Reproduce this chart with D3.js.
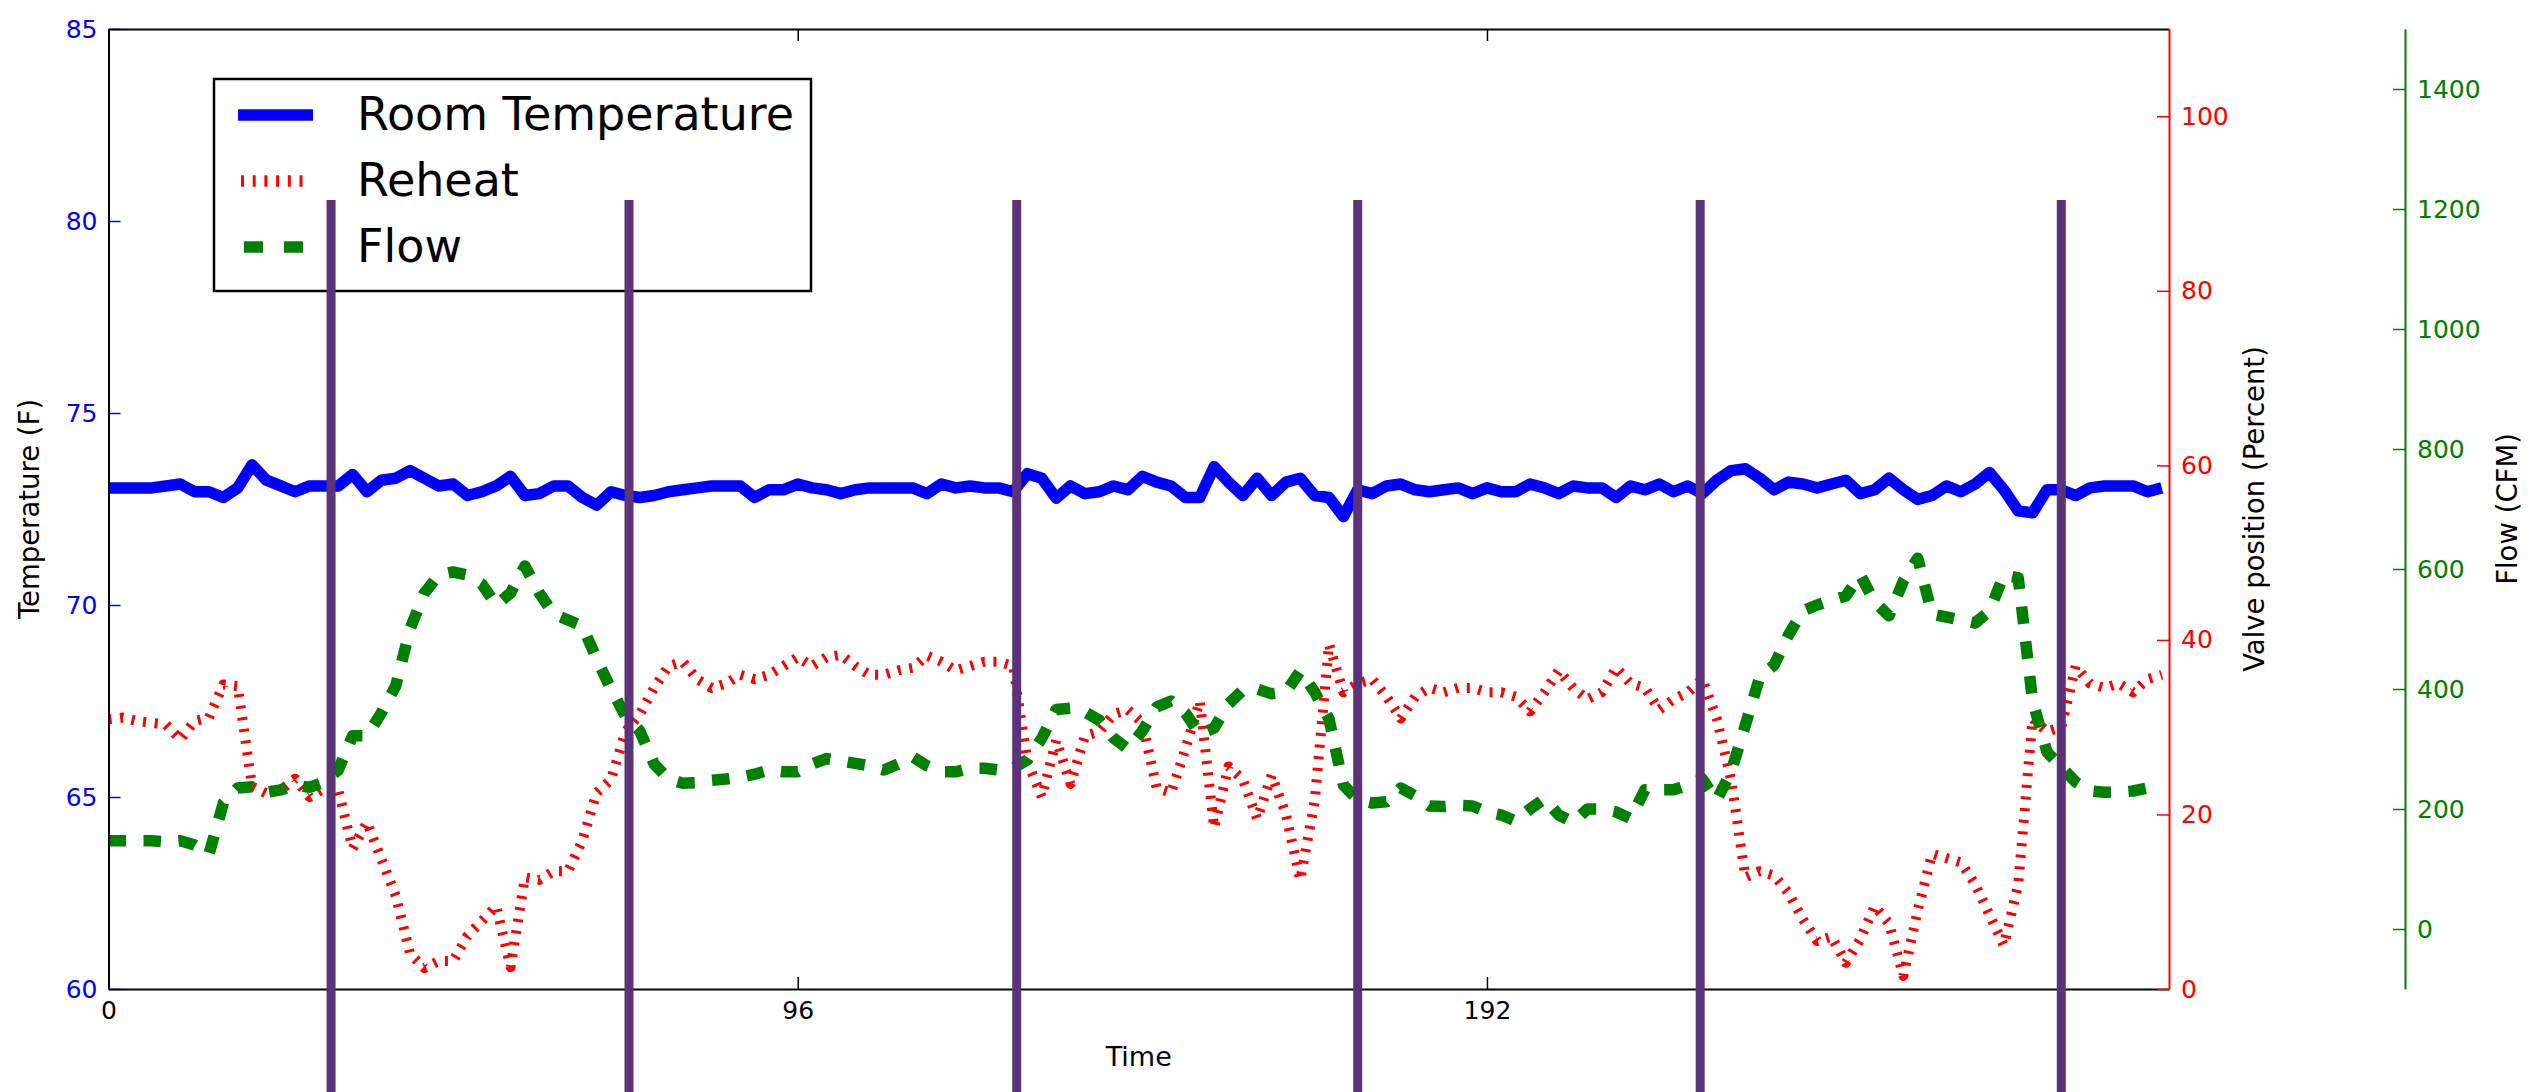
<!DOCTYPE html>
<html>
<head>
<meta charset="utf-8">
<script src="https://cdn.jsdelivr.net/npm/d3@7"></script>
<style>
body { margin: 0; background: #fff; }
svg text { font-family: "DejaVu Sans", sans-serif; }
</style>
</head>
<body>
<div id="target"></div>
<script>
// 15 minute samples over three days, every second sample
var times = d3.range(0, 288, 2);

var roomTemp = [
  73.05,73.05,73.05,73.05,73.1,73.15,72.95,72.95,72.8,73.05,73.65,73.25,
  73.1,72.95,73.1,73.1,73.1,73.4,72.95,73.25,73.3,73.5,73.3,73.1,
  73.15,72.85,72.95,73.1,73.35,72.85,72.9,73.1,73.1,72.8,72.6,72.95,
  72.85,72.8,72.85,72.95,73.0,73.05,73.1,73.1,73.1,72.8,73.0,73.0,
  73.15,73.05,73.0,72.9,73.0,73.05,73.05,73.05,73.05,72.9,73.15,73.05,
  73.1,73.05,73.05,72.95,73.42,73.3,72.78,73.1,72.9,72.95,73.1,73.0,
  73.35,73.2,73.1,72.8,72.8,73.6,73.2,72.85,73.3,72.85,73.2,73.3,
  72.85,72.8,72.3,73.0,72.9,73.1,73.15,73.0,72.95,73.0,73.05,72.9,
  73.05,72.95,72.95,73.15,73.05,72.9,73.1,73.05,73.05,72.8,73.1,73.0,
  73.15,72.95,73.1,72.9,73.25,73.5,73.55,73.3,73.0,73.2,73.15,73.05,
  73.15,73.25,72.9,73.0,73.3,73.0,72.75,72.85,73.1,72.95,73.15,73.45,
  73.0,72.45,72.4,73.0,73.0,72.85,73.05,73.1,73.1,73.1,72.95,73.05
];

var reheat = [
  30.9,31.1,30.7,30.5,30.3,28.6,30.7,31.1,34.9,34.7,23.2,22.4,
  22.8,24.1,22.0,23.0,22.8,16.1,19.1,14.9,10.7,4.05,2.4,3.2,
  3.2,6.1,7.8,9.5,2.5,12.8,12.5,13.5,13.5,17.0,22.5,24.0,
  29.5,31.5,34.5,37.0,37.5,35.5,34.5,35.0,36.0,35.5,36.0,37.0,
  38.0,37.0,38.0,38.3,37.0,36.0,36.0,36.5,36.8,38.2,37.5,36.5,
  37.0,37.5,37.5,37.0,26.0,22.0,28.5,23.5,29.0,29.5,31.5,32.0,
  30.5,23.0,22.5,27.5,33.0,18.5,25.5,24.0,19.5,24.5,20.0,12.5,
  21.5,39.5,34.0,35.0,35.5,33.5,31.0,33.5,34.5,34.0,34.5,34.5,
  34.0,34.0,33.5,31.8,34.0,36.5,34.5,33.2,34.0,36.8,35.0,34.5,
  32.0,33.2,34.0,35.5,31.0,24.0,12.8,13.5,13.0,11.0,8.0,5.5,
  6.0,3.0,5.7,9.5,7.5,1.5,9.0,15.5,15.0,14.5,12.0,8.5,
  5.0,12.0,31.0,29.5,30.0,37.0,35.0,34.5,35.0,34.0,35.5,36.0
];

var flow = [
  147,147,147,147,145,147,140,125,210,235,237,228,
  232,240,236,245,265,322,322,360,405,500,560,590,
  595,590,575,540,560,605,560,525,515,505,450,400,
  355,330,275,250,243,244,248,250,253,258,265,262,
  262,275,284,280,276,272,265,275,287,272,262,262,
  268,268,265,268,282,318,366,368,362,348,318,300,
  330,370,380,360,325,335,375,398,400,392,395,430,
  395,350,240,215,210,212,235,222,205,204,206,205,
  195,190,180,200,217,190,178,200,200,195,184,232,
  232,232,240,250,215,262,340,420,440,490,530,540,
  548,555,590,545,522,580,618,525,520,515,510,530,
  590,585,380,295,270,245,230,228,228,230,235,235
];

var seriesNames = ['Room Temperature', 'Reheat', 'Flow'];
var tempTicks = [60, 65, 70, 75, 80, 85];
var valveTicks = [0, 20, 40, 60, 80, 100];
var flowTicks = [0, 200, 400, 600, 800, 1000, 1200, 1400];
var timeTicks = [0, 96, 192];
// occupancy change markers, in samples
var markers = [31, 72.5, 126.5, 174, 221.7, 272];
var markerSpan = [90.4, -12];   // in valve units, runs past the axes

var W = 2547, H = 1092;
var plotLeft = 108.5, plotRight = 2169, plotTop = 29, plotBottom = 989;
var flowAxisX = 2405;

var svg = d3.select('#target').append('svg')
  .attr('width', W)
  .attr('height', H);

var x = d3.scaleLinear().domain([0, 287]).range([plotLeft, plotRight]);
var yTemp = d3.scaleLinear().domain([60, 85]).range([plotBottom, plotTop]);
var yValve = d3.scaleLinear().domain([0, 110]).range([plotBottom, plotTop]);
var yFlow = d3.scaleLinear().domain([-100, 1500]).range([plotBottom, plotTop]);

svg.append('clipPath').attr('id', 'plot')
  .append('rect')
  .attr('x', plotLeft).attr('y', plotTop)
  .attr('width', plotRight - plotLeft).attr('height', plotBottom - plotTop);

// data lines
var plot = svg.append('g').attr('clip-path', 'url(#plot)');

function lineFor(scale) {
  return d3.line()
    .x(function(d, i) { return x(times[i]); })
    .y(function(d) { return scale(d); });
}

plot.append('path')
  .attr('d', lineFor(yTemp)(roomTemp))
  .attr('fill', 'none')
  .attr('stroke', '#0000ff')
  .attr('stroke-width', 11.5)
  .attr('stroke-linejoin', 'round');

plot.append('path')
  .attr('d', lineFor(yValve)(reheat))
  .attr('fill', 'none')
  .attr('stroke', '#ff0000')
  .attr('stroke-width', 10)
  .attr('stroke-dasharray', '3,8.7')
  .attr('stroke-linejoin', 'round');

plot.append('path')
  .attr('d', lineFor(yFlow)(flow))
  .attr('fill', 'none')
  .attr('stroke', '#008000')
  .attr('stroke-width', 11.5)
  .attr('stroke-dasharray', '17.5,17.5')
  .attr('stroke-linejoin', 'round');

// axes
var plain = d3.format('d');

function styleAxis(g, color, fontSize) {
  g.select('.domain').attr('stroke', color).attr('stroke-width', 2);
  g.selectAll('.tick line').attr('stroke', color).attr('stroke-width', 1.5);
  g.selectAll('.tick text')
    .attr('fill', color)
    .style('font-size', fontSize + 'px')
    .style('font-family', '"DejaVu Sans", sans-serif');
}

var gLeft = svg.append('g')
  .attr('transform', 'translate(' + plotLeft + ',0)')
  .call(d3.axisLeft(yTemp).tickValues(tempTicks).tickFormat(plain)
    .tickSizeInner(-12).tickSizeOuter(0).tickPadding(11));
styleAxis(gLeft, '#000', 25);
gLeft.selectAll('.tick line').attr('stroke', '#0000ff');
gLeft.selectAll('.tick text').attr('fill', '#0000ff');

var gBottom = svg.append('g')
  .attr('transform', 'translate(0,' + plotBottom + ')')
  .call(d3.axisBottom(x).tickValues(timeTicks).tickFormat(plain)
    .tickSizeInner(-12).tickSizeOuter(0).tickPadding(12));
styleAxis(gBottom, '#000', 25);

var gTop = svg.append('g')
  .attr('transform', 'translate(0,' + plotTop + ')')
  .call(d3.axisTop(x).tickValues(timeTicks).tickSizeInner(-12).tickSizeOuter(0).tickFormat(''));
styleAxis(gTop, '#000', 25);

var gValve = svg.append('g')
  .attr('transform', 'translate(' + plotRight + ',0)')
  .call(d3.axisRight(yValve).tickValues(valveTicks).tickFormat(plain)
    .tickSizeInner(-12).tickSizeOuter(0).tickPadding(12));
styleAxis(gValve, '#ff0000', 25);

var gFlow = svg.append('g')
  .attr('transform', 'translate(' + flowAxisX + ',0)')
  .call(d3.axisRight(yFlow).tickValues(flowTicks).tickFormat(plain)
    .tickSizeInner(-12).tickSizeOuter(0).tickPadding(12));
styleAxis(gFlow, '#008000', 25);

// axis titles
svg.append('text')
  .attr('x', (plotLeft + plotRight) / 2).attr('y', 1066)
  .attr('text-anchor', 'middle')
  .style('font-size', '27px')
  .text('Time');

function sideTitle(cx, label) {
  svg.append('text')
    .attr('transform', 'translate(' + cx + ',' + (plotTop + plotBottom) / 2 + ') rotate(-90)')
    .attr('text-anchor', 'middle')
    .attr('dy', '0.35em')
    .style('font-size', '27.5px')
    .text(label);
}
sideTitle(29, 'Temperature (F)');
sideTitle(2254, 'Valve position (Percent)');
sideTitle(2507, 'Flow (CFM)');

// legend
var legend = svg.append('g');
legend.append('rect')
  .attr('x', 214).attr('y', 79)
  .attr('width', 597).attr('height', 212)
  .attr('fill', '#fff')
  .attr('stroke', '#000')
  .attr('stroke-width', 2.5);

var legendStyles = [
  { color: '#0000ff', x1: 238, x2: 313, dash: null },
  { color: '#ff0000', x1: 241, x2: 308, dash: '3,8.7' },
  { color: '#008000', x1: 244, x2: 304, dash: '19,21' }
];
seriesNames.forEach(function(name, i) {
  var cy = 115 + i * 66;
  var s = legendStyles[i];
  legend.append('line')
    .attr('x1', s.x1).attr('x2', s.x2)
    .attr('y1', cy).attr('y2', cy)
    .attr('stroke', s.color)
    .attr('stroke-width', 11.5)
    .attr('stroke-dasharray', s.dash);
  legend.append('text')
    .attr('x', 357).attr('y', cy + 15)
    .style('font-size', '46px')
    .text(name);
});

// occupancy markers, drawn over everything and past the axes
svg.append('g').selectAll('line')
  .data(markers)
  .join('line')
  .attr('x1', function(d) { return x(d); })
  .attr('x2', function(d) { return x(d); })
  .attr('y1', yValve(markerSpan[0]))
  .attr('y2', yValve(markerSpan[1]))
  .attr('stroke', '#5c3278')
  .attr('stroke-width', 9);
</script>
</body>
</html>
